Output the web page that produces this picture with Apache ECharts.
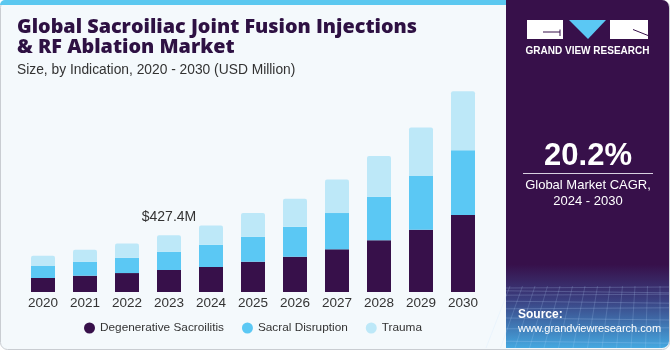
<!DOCTYPE html>
<html>
<head>
<meta charset="utf-8">
<script src="https://cdn.jsdelivr.net/npm/echarts@6/dist/echarts.min.js"></script>
<style>
  html, body { margin: 0; padding: 0; background: #ffffff; }
  #chart { width: 670px; height: 350px; }
</style>
</head>
<body>
<div id="chart"></div>
<script>
// Market size by indication, USD million
const years = ['2020', '2021', '2022', '2023', '2024', '2025', '2026', '2027', '2028', '2029', '2030'];
const degenerative = [105.6, 123.0, 143.0, 166.0, 188.5, 228.5, 266.0, 322.0, 390.0, 470.0, 580.6];
const sacral = [90.5, 105.6, 115.5, 138.2, 168.0, 188.5, 226.0, 274.0, 329.5, 405.0, 490.0];
const trauma = [77.7, 90.5, 108.0, 123.2, 145.5, 178.7, 211.0, 254.0, 307.0, 367.0, 445.0];
const seriesNames = ['Degenerative Sacroilitis', 'Sacral Disruption', 'Trauma'];
const highlightIndex = 3;   // year whose total is called out
const cagrText = '20.2%';

const C_DARK = '#37104a';
const C_BLUE = '#5bc8f4';
const C_LIGHT = '#bde8f8';
const BG = '#f4f9fc';
const FONT = '"Liberation Sans", Arial, sans-serif';
const TITLE_FONT = '800 19.8px "Open Sans", "Liberation Sans", Arial, sans-serif';

const totals = years.map((_, i) => degenerative[i] + sacral[i] + trauma[i]);

const chart = echarts.init(document.getElementById('chart'), null, { renderer: 'canvas' });

const traumaData = trauma.map((v, i) => {
  if (i !== highlightIndex) return v;
  return {
    value: v,
    label: {
      show: true,
      position: 'top',
      distance: 11,
      formatter: () => '$' + totals[i].toFixed(1) + 'M',
      fontSize: 14,
      color: '#333',
      fontFamily: FONT
    }
  };
});

// faint mesh at the bottom of the side panel
const mesh = [];
for (let k = 0; k < 9; k++) {
  const y = 288 + k * k * 0.8 + k * 2;
  mesh.push({ type: 'line', z: -7, shape: { x1: 506, y1: y, x2: 669, y2: y + (k % 2 ? 2 : -1) },
    style: { stroke: 'rgba(190,220,255,0.22)', lineWidth: 1 } });
}
for (let k = 0; k < 14; k++) {
  const x = 506 + k * 12.5;
  mesh.push({ type: 'line', z: -7, shape: { x1: x + 4, y1: 286, x2: x - 6 + (k - 7) * 2, y2: 348 },
    style: { stroke: 'rgba(190,220,255,0.18)', lineWidth: 1 } });
}

const option = {
  backgroundColor: 'transparent',
  animation: false,
  graphic: [
    // card background
    { type: 'rect', z: -10, shape: { x: 0.5, y: 0.5, width: 669, height: 349, r: 7 },
      style: { fill: BG, stroke: '#c9cdd2', lineWidth: 1 } },
    // top accent stripe
    { type: 'rect', z: -9, shape: { x: 0, y: 0, width: 507, height: 5, r: [7, 0, 0, 0] },
      style: { fill: '#5bc8f0' } },
    // side panel
    { type: 'rect', z: -8, shape: { x: 506, y: 0, width: 163, height: 348, r: [0, 7, 7, 0] },
      style: {
        fill: new echarts.graphic.LinearGradient(0, 0, 0, 1, [
          { offset: 0, color: '#37104a' },
          { offset: 0.76, color: '#37104a' },
          { offset: 0.86, color: '#3a3f80' },
          { offset: 1, color: '#45a8e0' }
        ])
      } },
    ...mesh,
    // logo
    { type: 'rect', shape: { x: 527, y: 20, width: 36, height: 19 }, style: { fill: '#ffffff' } },
    { type: 'line', shape: { x1: 543, y1: 32, x2: 560, y2: 32 }, style: { stroke: C_DARK, lineWidth: 1 } },
    { type: 'line', shape: { x1: 560, y1: 29.5, x2: 560, y2: 36 }, style: { stroke: C_DARK, lineWidth: 1 } },
    { type: 'polygon', shape: { points: [[569, 20], [606, 20], [588, 39]] }, style: { fill: C_BLUE } },
    { type: 'rect', shape: { x: 610, y: 20, width: 38, height: 19 }, style: { fill: '#ffffff' } },
    { type: 'line', shape: { x1: 633, y1: 29.5, x2: 648, y2: 35.5 }, style: { stroke: C_DARK, lineWidth: 1 } },
    { type: 'text', style: { x: 587.5, y: 51, text: 'GRAND VIEW RESEARCH', align: 'center', verticalAlign: 'middle',
      font: 'bold 10px ' + FONT, fill: '#ffffff' } },
    // CAGR block
    { type: 'text', style: { x: 588, y: 156, text: cagrText, align: 'center', verticalAlign: 'middle',
      font: 'bold 31px ' + FONT, fill: '#ffffff' } },
    { type: 'line', shape: { x1: 523, y1: 173.5, x2: 653, y2: 173.5 }, style: { stroke: '#d8d0e0', lineWidth: 1 } },
    { type: 'text', style: { x: 588, y: 185, text: 'Global Market CAGR,', align: 'center', verticalAlign: 'middle',
      font: '13px ' + FONT, fill: '#ffffff' } },
    { type: 'text', style: { x: 588, y: 201, text: '2024 - 2030', align: 'center', verticalAlign: 'middle',
      font: '13px ' + FONT, fill: '#ffffff' } },
    // source
    { type: 'text', style: { x: 518, y: 315, text: 'Source:', align: 'left', verticalAlign: 'middle',
      font: 'bold 12px ' + FONT, fill: '#ffffff' } },
    { type: 'text', style: { x: 518, y: 329, text: 'www.grandviewresearch.com', align: 'left', verticalAlign: 'middle',
      font: '11px ' + FONT, fill: '#ffffff' } },
    // title
    { type: 'text', style: { x: 17, y: 27.5, text: 'Global Sacroiliac Joint Fusion Injections', align: 'left', verticalAlign: 'middle',
      font: TITLE_FONT, fill: '#2e1143' } },
    { type: 'text', style: { x: 17, y: 47, text: '& RF Ablation Market', align: 'left', verticalAlign: 'middle',
      font: TITLE_FONT, fill: '#2e1143' } },
    { type: 'text', style: { x: 17, y: 70, text: 'Size, by Indication, 2020 - 2030 (USD Million)', align: 'left', verticalAlign: 'middle',
      font: '13.8px ' + FONT, fill: '#333333' } }
  ],
  legend: {
    data: seriesNames,
    left: 84,
    top: 322,
    padding: 0,
    icon: 'circle',
    itemWidth: 11,
    itemHeight: 11,
    itemGap: 18,
    textStyle: { fontSize: 11.8, color: '#333', fontFamily: FONT }
  },
  grid: { left: 22, top: 80, width: 462, height: 212, containLabel: false },
  xAxis: {
    type: 'category',
    data: years,
    axisLine: { show: false },
    axisTick: { show: false },
    axisLabel: { fontSize: 13.5, color: '#333', fontFamily: FONT, margin: 4 }
  },
  yAxis: {
    type: 'value',
    min: 0,
    max: 1600,
    show: false,
    splitLine: { show: false }
  },
  series: [
    { name: seriesNames[0], type: 'bar', stack: 'total', barWidth: 24, data: degenerative,
      itemStyle: { color: C_DARK } },
    { name: seriesNames[1], type: 'bar', stack: 'total', barWidth: 24, data: sacral,
      itemStyle: { color: C_BLUE } },
    { name: seriesNames[2], type: 'bar', stack: 'total', barWidth: 24, data: traumaData,
      itemStyle: { color: C_LIGHT, borderRadius: [2, 2, 0, 0] } }
  ]
};

chart.setOption(option);
</script>
</body>
</html>
